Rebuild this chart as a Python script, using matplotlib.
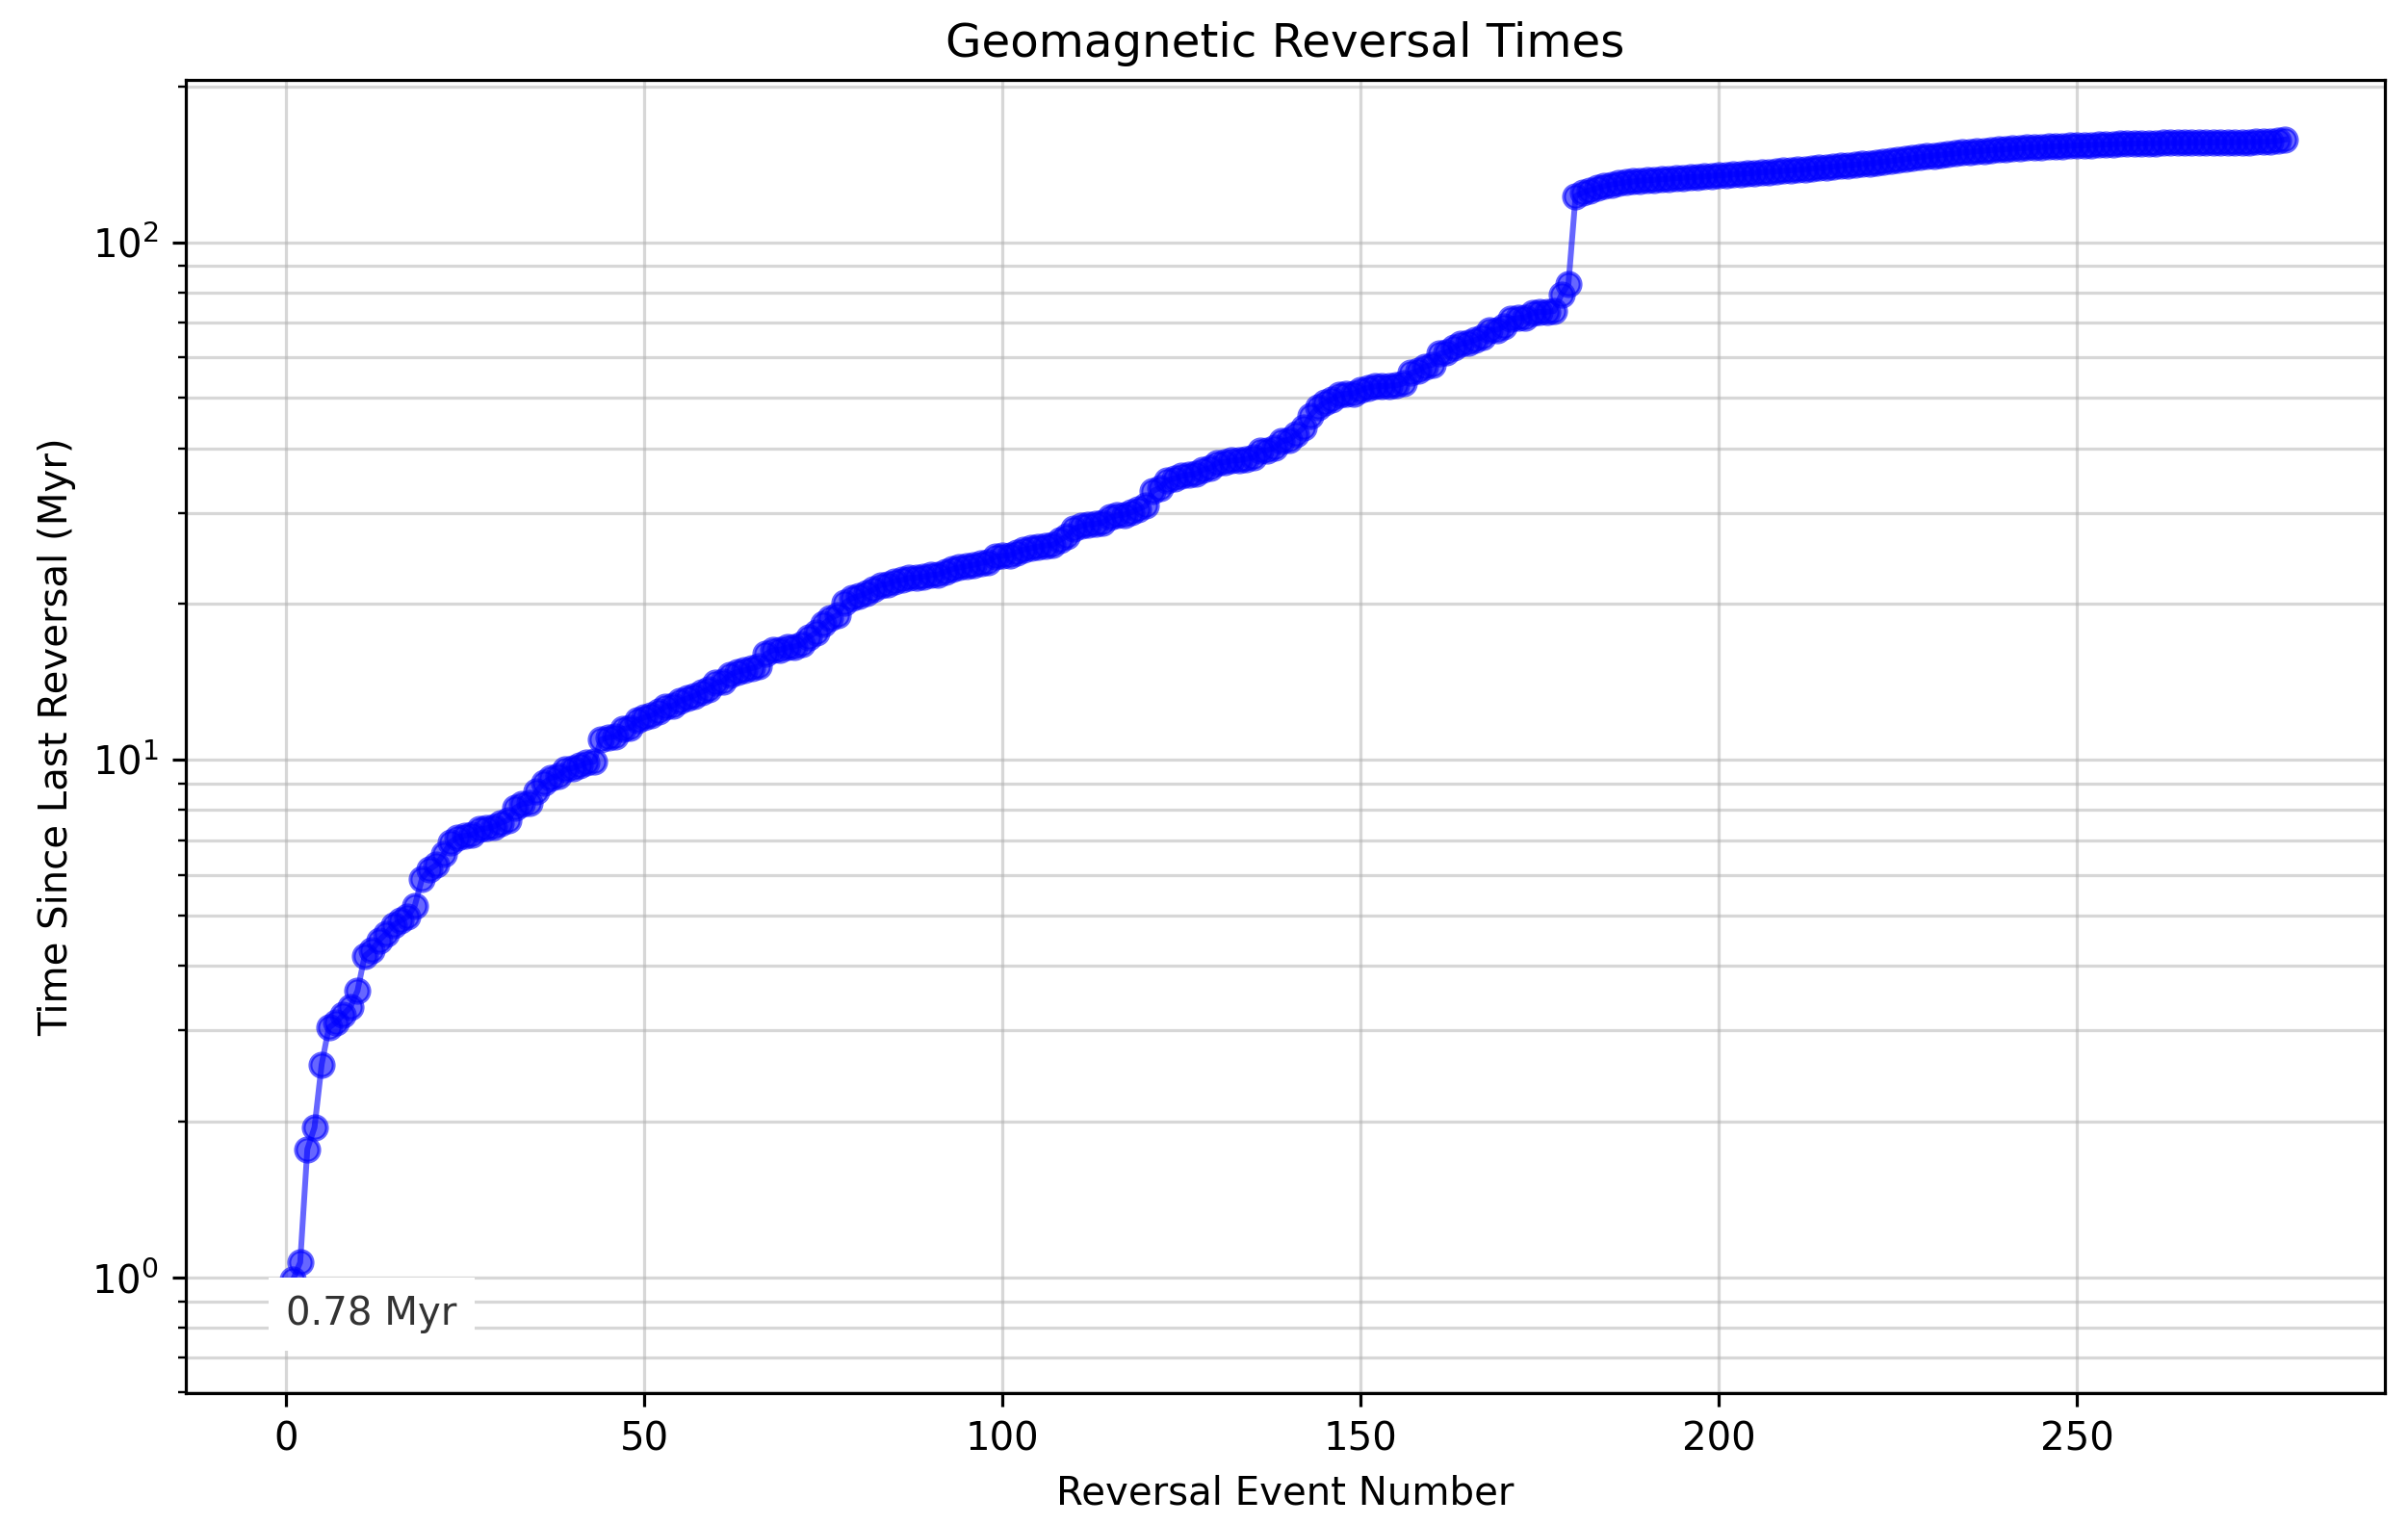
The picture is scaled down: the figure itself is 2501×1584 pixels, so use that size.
import numpy as np
import matplotlib
matplotlib.use("Agg")
import matplotlib.pyplot as plt

# reversal ages (Myr), Cenozoic / Late Cretaceous part
ages_young = [0.780, 0.990, 1.070, 1.770, 1.950, 2.581, 3.040, 3.110, 3.220, 3.330,
              3.580, 4.180, 4.290, 4.480, 4.620, 4.800, 4.890, 4.980, 5.230, 5.894,
              6.137, 6.269, 6.567, 6.935, 7.091, 7.135, 7.170, 7.341, 7.375, 7.432,
              7.562, 7.650, 8.072, 8.225, 8.257, 8.699, 9.025, 9.230, 9.308, 9.580,
              9.642, 9.740, 9.880, 9.920, 10.949, 11.052, 11.099, 11.476, 11.531, 11.935,
              12.078, 12.184, 12.401, 12.678, 12.708, 12.991, 13.139, 13.302, 13.510, 13.703,
              14.076, 14.178, 14.612, 14.800, 14.888, 15.034, 15.155, 16.014, 16.293, 16.327,
              16.488, 16.556, 16.726, 17.277, 17.615, 18.281, 18.781, 19.048, 20.131, 20.518,
              20.725, 20.996, 21.320, 21.768, 21.859, 22.151, 22.248, 22.459, 22.493, 22.588,
              22.750, 22.804, 23.069, 23.353, 23.535, 23.677, 23.800, 23.999, 24.118, 24.730,
              24.781, 24.835, 25.183, 25.496, 25.648, 25.823, 25.951, 25.992, 26.554, 27.027,
              27.972, 28.283, 28.512, 28.578, 28.745, 29.401, 29.662, 29.765, 30.098, 30.479,
              30.939, 33.058, 33.545, 34.655, 34.940, 35.343, 35.526, 35.685, 36.341, 36.618,
              37.473, 37.604, 37.848, 37.920, 38.113, 38.426, 39.552, 39.631, 40.130, 41.257,
              41.521, 42.536, 43.789, 46.264, 47.906, 49.037, 49.714, 50.778, 50.946, 51.047,
              51.743, 52.364, 52.663, 52.757, 52.801, 52.903, 53.347, 55.904, 56.391, 57.554,
              57.911, 60.920, 61.276, 62.499, 63.634, 63.976, 64.745, 65.578, 67.610, 67.735,
              68.737, 71.071, 71.338, 71.587, 73.004, 73.291, 73.374, 73.619, 79.075, 83.000]

# M-sequence part
ages_old = [122.8, 124.6, 126.0, 127.2, 128.3, 129.2, 129.9, 130.5, 131.0, 131.4,
            131.7, 132.0, 132.3, 132.6, 132.9, 133.2, 133.5, 133.7, 134.0, 134.3,
            134.6, 134.9, 135.2, 135.5, 135.8, 136.1, 136.4, 136.7, 137.0, 137.3,
            137.6, 137.9, 138.3, 138.7, 139.1, 139.5, 139.9, 140.3, 140.7, 141.1,
            141.5, 142.0, 142.5, 143.0, 143.5, 144.1, 144.7, 145.3, 145.9, 146.5,
            147.0, 147.5, 148.0, 148.5, 149.0, 149.4, 149.8, 150.2, 150.6, 151.0,
            151.3, 151.6, 151.9, 152.2, 152.5, 152.7, 152.9, 153.1, 153.3, 153.5,
            153.7, 153.9, 154.1, 154.3, 154.5, 154.7, 154.9, 155.0, 155.1, 155.2,
            155.3, 155.4, 155.5, 155.5, 155.6, 155.6, 155.7, 155.7, 155.8, 155.8,
            155.9, 155.9, 156.0, 156.0, 156.1, 156.2, 156.3, 156.5, 156.8, 157.8]

times = np.array(ages_young + ages_old)
events = np.arange(len(times))

fig = plt.figure(figsize=(2501 / 290, 1584 / 290), dpi=290)
ax = fig.add_axes([0.0772, 0.0865, 0.9132, 0.8611])

ax.plot(events, times, marker='o', color='blue', alpha=0.6)
ax.set_yscale('log')
ax.grid(True, which='both', alpha=0.5)

# label for the most recent reversal, box hides the first points
ax.text(0, times[0], f"{times[0]:.2f} Myr", ha='left', va='bottom', color='#333333',
        bbox=dict(boxstyle='square,pad=0.45', facecolor='white', edgecolor='none'))

ax.set_title("Geomagnetic Reversal Times")
ax.set_xlabel("Reversal Event Number")
ax.set_ylabel("Time Since Last Reversal (Myr)")

fig.savefig("out.png", dpi=290)
